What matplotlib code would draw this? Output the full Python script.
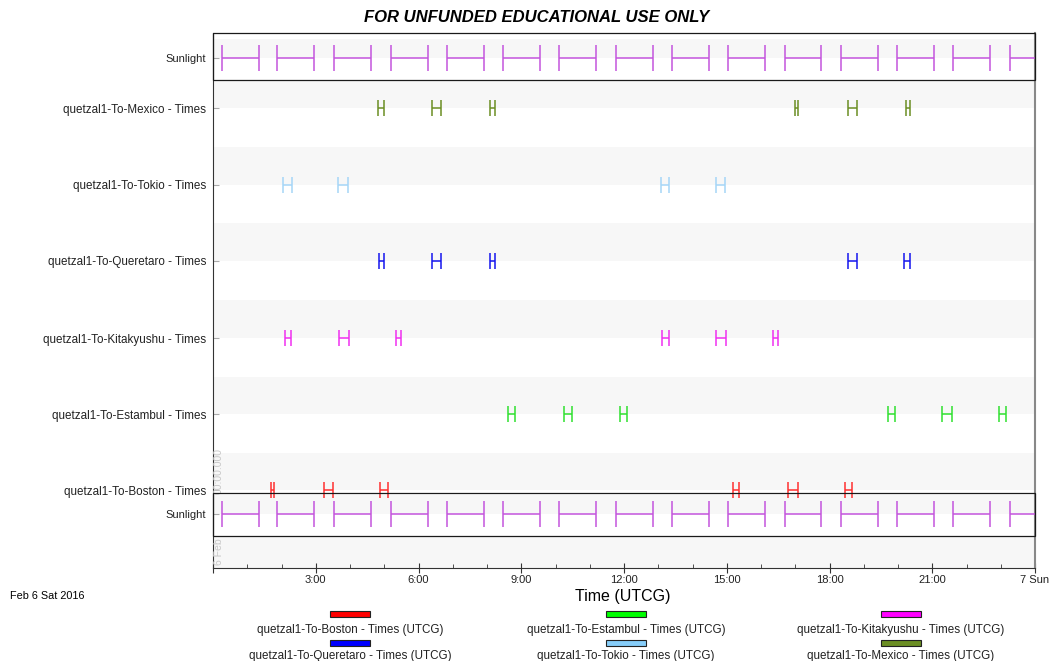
import matplotlib
matplotlib.use("Agg")
import matplotlib.pyplot as plt
from matplotlib.patches import Rectangle

plt.rcParams["font.family"] = ["Liberation Sans", "DejaVu Sans"]

# hours after Feb 6 2016 00:00 UTCG
sun_start = [0.26, 1.87, 3.53, 5.20, 6.83, 8.47, 10.10, 11.77, 13.40, 15.04, 16.70, 18.34, 19.97, 21.61, 23.27]
sun_end = [1.33, 2.95, 4.61, 6.27, 7.91, 9.55, 11.18, 12.85, 14.48, 16.12, 17.75, 19.42, 21.05, 22.69, 24.33]

mexico = [(4.82, 4.99), (6.39, 6.66), (8.10, 8.22), (16.99, 17.08), (18.54, 18.80), (20.23, 20.35)]
tokio = [(2.04, 2.31), (3.65, 3.94), (13.08, 13.31), (14.69, 14.95)]
queretaro = [(4.85, 4.99), (6.39, 6.66), (8.09, 8.23), (18.54, 18.80), (20.18, 20.35)]
kitakyushu = [(2.10, 2.28), (3.68, 3.97), (5.34, 5.49), (13.11, 13.31), (14.69, 14.98), (16.35, 16.50)]
estambul = [(8.61, 8.82), (10.25, 10.48), (11.88, 12.09), (19.71, 19.91), (21.29, 21.58), (22.95, 23.15)]
boston = [(1.69, 1.78), (3.24, 3.50), (4.88, 5.11), (15.18, 15.36), (16.79, 17.08), (18.45, 18.66)]

tick_hours = [0, 3, 6, 9, 12, 15, 18, 21, 24]
tick_labels = ["", "3:00", "6:00", "9:00", "12:00", "15:00", "18:00", "21:00", "7 Sun"]

sun_col = "#c455dd"
rows = [
    ("quetzal1-To-Mexico - Times", mexico, "#6b8e23", "#6b8e23"),
    ("quetzal1-To-Tokio - Times", tokio, "#a6d6f7", "#87cefa"),
    ("quetzal1-To-Queretaro - Times", queretaro, "#1515ee", "#0000ff"),
    ("quetzal1-To-Kitakyushu - Times", kitakyushu, "#f030f0", "#ff00ff"),
    ("quetzal1-To-Estambul - Times", estambul, "#30e030", "#00ff00"),
    ("quetzal1-To-Boston - Times", boston, "#ff3030", "#ff0000"),
]

# layout (axis y units are pixels from the top of the image)
row_y = [108, 185, 261, 338, 414, 490]
sun_y = [58, 514]
bands = [(39, 58), (80, 108), (147, 185), (223, 261), (300, 338), (377, 414),
         (453, 490), (495, 514), (536, 568)]

W, H = 1052, 661
fig = plt.figure(figsize=(W / 100, H / 100), dpi=100)
ax = fig.add_axes([213 / W, 1 - 568 / H, (1035 - 213) / W, (568 - 33) / H])
ax.set_xlim(0, 24)
ax.set_ylim(568, 33)

for a, b in bands:
    ax.axhspan(a, b, color="#f7f7f7", lw=0, zorder=0)


def draw_intervals(y, ivs, color, half):
    for s, e in ivs:
        ax.hlines(y, s, e, color=color, lw=1.1, zorder=3)
        ax.vlines([s, e], y - half, y + half, color=color, lw=1.1, zorder=3)


for y in sun_y:
    draw_intervals(y, list(zip(sun_start, sun_end)), sun_col, 13)
for (name, ivs, col, _), y in zip(rows, row_y):
    draw_intervals(y, ivs, col, 8)

# sunlight panel frames
for top, bot in [(33, 80), (493, 536)]:
    ax.add_patch(Rectangle((0, top), 24, bot - top, fill=False, ec="#1a1a1a", lw=0.9, zorder=5, clip_on=False))

ax.spines["top"].set_visible(False)
ax.spines["left"].set_color("#333333")
ax.spines["bottom"].set_color("#333333")
ax.spines["right"].set_color("#888888")
ax.spines["right"].set_linewidth(1.5)

yt = row_y + sun_y
yl = [r[0] for r in rows] + ["Sunlight", "Sunlight"]
ax.set_yticks(yt)
ax.set_yticklabels(yl)
for lab in ax.get_yticklabels():
    lab.set_fontsize(8 if lab.get_text() == "Sunlight" else 8.4)
    lab.set_color("#222222")
ax.tick_params(axis="y", direction="in", length=4, color="#aaaaaa", pad=5)

ax.set_xticks(tick_hours)
ax.set_xticklabels(tick_labels, fontsize=8, color="#222222")
ax.set_xticks(range(25), minor=True)
ax.tick_params(axis="x", which="major", direction="inout", length=7, color="#333333", pad=1.5)
ax.tick_params(axis="x", which="minor", direction="in", length=3, color="#333333")

ax.text(0.17, 471, "00:00.000", rotation=90, color="#c8c8c8", fontsize=7.5, ha="center", va="center")
ax.text(0.17, 552, "6 Feb", rotation=90, color="#c8c8c8", fontsize=7.5, ha="center", va="center")

fig.text(537 / W, 1 - 17 / H, "FOR UNFUNDED EDUCATIONAL USE ONLY", fontsize=12,
         fontweight="bold", fontstyle="italic", ha="center", va="center")
fig.text(623 / W, 1 - 597 / H, "Time (UTCG)", fontsize=11.5, ha="center", va="center")
fig.text(10 / W, 1 - 596 / H, "Feb 6 Sat 2016", fontsize=7.8, ha="left", va="center")

# legend: boxes with text underneath, 3 columns
leg_order = [5, 4, 3, 2, 1, 0]
leg_x = [350, 626, 901]
leg_box_y = [614, 643]
leg_txt_y = [630, 656]
for k, idx in enumerate(leg_order):
    name, _, _, lc = rows[idx]
    cx = leg_x[k % 3]
    r = k // 3
    fig.add_artist(Rectangle(((cx - 20) / W, 1 - (leg_box_y[r] + 3) / H), 40 / W, 6 / H,
                             transform=fig.transFigure, fc=lc, ec="#222222", lw=0.8))
    fig.text(cx / W, 1 - leg_txt_y[r] / H, name + " (UTCG)", fontsize=8.4,
             ha="center", va="center", color="#222222")

fig.savefig("out.png", dpi=100)
